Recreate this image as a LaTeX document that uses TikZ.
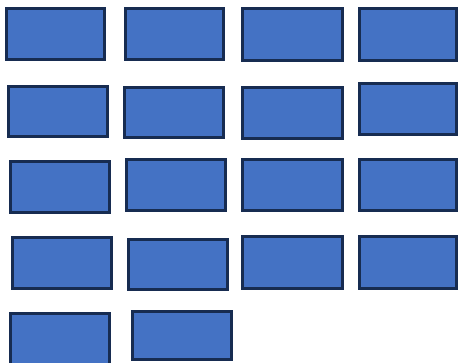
\documentclass[tikz,border=0pt]{standalone}
\definecolor{cellfill}{HTML}{4472C4}
\definecolor{celldraw}{HTML}{172C51}
\tikzset{cell/.style={fill=cellfill,draw=celldraw,line width=2.6pt}}
\begin{document}
\begin{tikzpicture}[x=1pt,y=-1pt]
\useasboundingbox (0,0) rectangle (458,362);
% row 1
\draw[cell] (6.3,8.3) rectangle (104.7,59.7);
\draw[cell] (125.3,8.3) rectangle (223.7,59.7);
\draw[cell] (242.3,8.3) rectangle (342.7,60.7);
\draw[cell] (359.3,8.3) rectangle (456.7,60.7);
% row 2
\draw[cell] (8.3,86.3) rectangle (107.7,136.7);
\draw[cell] (124.3,87.3) rectangle (223.7,137.7);
\draw[cell] (242.3,87.3) rectangle (342.7,138.7);
\draw[cell] (359.3,83.3) rectangle (456.7,134.7);
% row 3
\draw[cell] (10.3,161.3) rectangle (109.7,212.7);
\draw[cell] (126.3,159.3) rectangle (225.7,210.7);
\draw[cell] (242.3,159.3) rectangle (342.7,210.7);
\draw[cell] (359.3,159.3) rectangle (456.7,210.7);
% row 4
\draw[cell] (12.3,237.3) rectangle (111.7,288.7);
\draw[cell] (128.3,239.3) rectangle (227.7,289.7);
\draw[cell] (242.3,236.3) rectangle (342.7,288.7);
\draw[cell] (359.3,236.3) rectangle (456.7,288.7);
% row 5
\draw[cell] (10.3,313.3) rectangle (109.7,366);
\draw[cell] (132.3,311.3) rectangle (231.7,359.7);
\end{tikzpicture}
\end{document}
